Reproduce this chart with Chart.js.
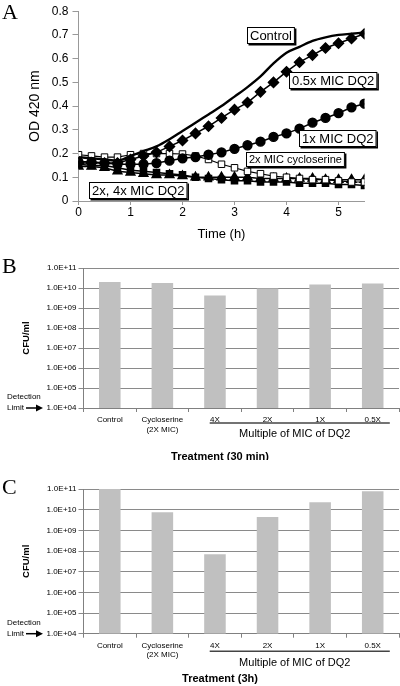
<!DOCTYPE html>
<html>
<head>
<meta charset="utf-8">
<script src="https://cdn.jsdelivr.net/npm/chart.js@4.4.1/dist/chart.umd.min.js"></script>
<style>
  html, body { margin: 0; padding: 0; background: #fff; }
  #wrap { position: relative; width: 400px; height: 686px; overflow: hidden; background: #fff; }
  canvas { position: absolute; left: 0; }
  .letter { position: absolute; font-family: 'Liberation Serif', 'DejaVu Serif', serif; font-size: 22px; color: #000; line-height: 1; }
</style>
</head>
<body>
<div id="wrap">
  <canvas id="cA" width="400" height="244" style="top:0"></canvas>
  <canvas id="cB" width="400" height="216" style="top:244px"></canvas>
  <canvas id="cC" width="400" height="226" style="top:460px"></canvas>
  <div class="letter" style="left:2px; top:1px;">A</div>
  <div class="letter" style="left:2px; top:255px;">B</div>
  <div class="letter" style="left:2px; top:476px;">C</div>
</div>
<script>
// ---------- Panel A data ----------
const timeH = [0,0.25,0.5,0.75,1,1.25,1.5,1.75,2,2.25,2.5,2.75,3,3.25,3.5,3.75,4,4.25,4.5,4.75,5,5.25,5.5];
const odControl     = [0.185,0.18,0.175,0.17,0.19,0.21,0.23,0.26,0.295,0.33,0.365,0.40,0.44,0.48,0.525,0.58,0.625,0.65,0.675,0.69,0.70,0.705,0.71];
const odHalfMicDQ2  = [0.16,0.16,0.16,0.16,0.175,0.19,0.205,0.23,0.255,0.285,0.315,0.35,0.385,0.415,0.46,0.50,0.545,0.585,0.615,0.645,0.665,0.685,0.705];
const odOneMicDQ2   = [0.165,0.165,0.16,0.155,0.155,0.155,0.16,0.17,0.18,0.185,0.195,0.205,0.22,0.235,0.25,0.27,0.285,0.305,0.33,0.35,0.37,0.395,0.41];
const odCycloserine = [0.195,0.19,0.185,0.185,0.195,0.20,0.20,0.20,0.198,0.19,0.175,0.155,0.14,0.125,0.115,0.105,0.10,0.095,0.09,0.09,0.085,0.08,0.08];
const odTwoMicDQ2   = [0.155,0.15,0.15,0.14,0.13,0.125,0.12,0.115,0.11,0.10,0.095,0.09,0.085,0.085,0.08,0.08,0.08,0.075,0.075,0.075,0.07,0.07,0.065];
const odFourMicDQ2  = [0.145,0.145,0.14,0.125,0.12,0.115,0.11,0.11,0.105,0.10,0.10,0.10,0.10,0.10,0.095,0.095,0.095,0.095,0.095,0.09,0.09,0.09,0.09];
const odTicksMax = 0.8;

// ---------- Panels B and C data ----------
const treatments = ['Control', ['Cycloserine','(2X MIC)'], '4X', '2X', '1X', '0.5X'];
const cfu30min = [2.0e10, 1.8e10, 4.2e9, 9.5e9, 1.5e10, 1.7e10];
const cfu3h    = [1.0e11, 7.4e9, 6.9e7, 4.4e9, 2.3e10, 7.7e10];
const cfuTicks = [1e4, 1e5, 1e6, 1e7, 1e8, 1e9, 1e10, 1e11];

const FONT = "'Liberation Sans', Arial, sans-serif";
Chart.defaults.font.family = FONT;
Chart.defaults.color = '#000';
Chart.defaults.devicePixelRatio = 1;

function pts(ys) { return timeH.map((t, i) => ({ x: t, y: ys[i] })); }

// ---------- Panel A: boxed labels ----------
const boxLabels = {
  id: 'boxLabels',
  afterDatasetsDraw(chart, args, opts) {
    const ctx = chart.ctx;
    ctx.save();
    for (const b of opts.items) {
      ctx.font = b.size + 'px ' + FONT;
      const w = ctx.measureText(b.text).width + 2 * b.padX;
      const h = b.h;
      ctx.fillStyle = '#000';
      ctx.fillRect(b.left + 1.5, b.top + 1.5, w, h);
      ctx.fillStyle = '#fff';
      ctx.fillRect(b.left, b.top, w, h);
      ctx.strokeStyle = '#000';
      ctx.lineWidth = 1;
      ctx.strokeRect(b.left + 0.5, b.top + 0.5, w - 1, h - 1);
      ctx.fillStyle = '#000';
      ctx.textBaseline = 'middle';
      ctx.textAlign = 'left';
      ctx.fillText(b.text, b.left + b.padX, b.top + h / 2 + 0.5);
    }
    ctx.restore();
  }
};

new Chart(document.getElementById('cA'), {
  type: 'line',
  data: {
    datasets: [
      { label: 'Control', data: pts(odControl), borderColor: '#000', borderWidth: 2.4, pointRadius: 0, cubicInterpolationMode: 'monotone' },
      { label: '0.5x MIC DQ2', data: pts(odHalfMicDQ2), borderColor: '#000', borderWidth: 1.5, pointStyle: 'rectRot', pointRadius: 5, pointBackgroundColor: '#000' },
      { label: '1x MIC DQ2', data: pts(odOneMicDQ2), borderColor: '#000', borderWidth: 1.5, pointStyle: 'circle', pointRadius: 4.4, pointBackgroundColor: '#000' },
      { label: '2x MIC cycloserine', data: pts(odCycloserine), borderColor: '#000', borderWidth: 1.2, pointStyle: 'rect', pointRadius: 4.6, pointBackgroundColor: '#fff', pointBorderColor: '#000', pointBorderWidth: 1 },
      { label: '2x MIC DQ2', data: pts(odTwoMicDQ2), borderColor: '#000', borderWidth: 1.5, pointStyle: 'rect', pointRadius: 4.3, pointBackgroundColor: '#000' },
      { label: '4x MIC DQ2', data: pts(odFourMicDQ2), borderColor: '#000', borderWidth: 1.5, pointStyle: 'triangle', pointRadius: 5, pointBackgroundColor: '#000' }
    ]
  },
  options: {
    responsive: false,
    animation: false,
    layout: { padding: { top: 11, right: 35.5, left: 0, bottom: 0 } },
    plugins: {
      legend: { display: false },
      tooltip: { enabled: false },
      boxLabels: {
        items: [
          { text: 'Control', left: 247, top: 27, h: 17, size: 13, padX: 3 },
          { text: '0.5x MIC DQ2', left: 289, top: 72, h: 17, size: 13, padX: 3 },
          { text: '1x MIC DQ2', left: 299, top: 130, h: 17, size: 13, padX: 3 },
          { text: '2x MIC cycloserine', left: 246, top: 152, h: 15, size: 11, padX: 3 },
          { text: '2x, 4x MIC DQ2', left: 89, top: 182, h: 17, size: 13, padX: 3 }
        ]
      }
    },
    scales: {
      x: {
        type: 'linear', min: 0, max: 5.5,
        ticks: { stepSize: 1, includeBounds: false, font: { size: 12 }, color: '#000', padding: 0, maxRotation: 0 },
        grid: { drawOnChartArea: false, tickLength: 4, color: '#999' },
        border: { color: '#999' },
        title: { display: true, text: 'Time (h)', font: { size: 13 }, color: '#000', padding: { top: 0, bottom: 2 } },
        afterFit(s) { s.height = 43; }
      },
      y: {
        min: 0, max: odTicksMax,
        ticks: { stepSize: 0.1, font: { size: 12 }, color: '#000', padding: 4 },
        grid: { drawOnChartArea: false, tickLength: 6, color: '#999' },
        border: { color: '#999' },
        title: { display: true, text: 'OD 420 nm', font: { size: 14 }, color: '#000', padding: { top: 27, bottom: 0 } },
        afterFit(s) { s.width = 78.5; }
      }
    }
  },
  plugins: [boxLabels]
});

// ---------- Panels B/C: decorations ----------
const barDecor = {
  id: 'barDecor',
  afterDraw(chart, args, o) {
    const ctx = chart.ctx;
    const xs = chart.scales.x;
    const bottom = chart.chartArea.bottom;
    ctx.save();
    ctx.fillStyle = '#000';
    ctx.strokeStyle = '#000';
    ctx.font = '8px ' + FONT;
    ctx.textBaseline = 'middle';
    ctx.textAlign = 'left';
    ctx.fillText('Detection', 7, bottom - 11);
    ctx.fillText('Limit', 7, bottom);
    ctx.lineWidth = 1.5;
    ctx.beginPath();
    ctx.moveTo(26, bottom);
    ctx.lineTo(38, bottom);
    ctx.stroke();
    ctx.beginPath();
    ctx.moveTo(43, bottom);
    ctx.lineTo(36, bottom - 3.5);
    ctx.lineTo(36, bottom + 3.5);
    ctx.closePath();
    ctx.fill();
    const half = (xs.getPixelForValue(1) - xs.getPixelForValue(0)) / 2;
    const x0 = xs.getPixelForValue(2) - half * 0.2;
    const x1 = xs.getPixelForValue(5) + half * 0.65;
    ctx.strokeStyle = '#444';
    ctx.lineWidth = 1.6;
    ctx.beginPath();
    ctx.moveTo(x0, bottom + o.lineOffset);
    ctx.lineTo(x1, bottom + o.lineOffset);
    ctx.stroke();
    ctx.font = '11px ' + FONT;
    ctx.textAlign = 'center';
    ctx.fillStyle = '#000';
    ctx.fillText('Multiple of MIC of DQ2', (x0 + x1) / 2 - 5, bottom + o.multOffset);
    ctx.font = 'bold 11px ' + FONT;
    ctx.fillText(o.title, 220, bottom + o.titleOffset);
    ctx.restore();
  }
};

function cfuLabel(v) {
  const e = Math.round(Math.log10(v));
  return '1.0E+' + (e < 10 ? '0' + e : '' + e);
}

function barChart(id, values, top, deco) {
  return new Chart(document.getElementById(id), {
    type: 'bar',
    data: {
      labels: treatments,
      datasets: [{ data: values, backgroundColor: '#c0c0c0', borderWidth: 0, barPercentage: 1, categoryPercentage: 0.41 }]
    },
    options: {
      responsive: false,
      animation: false,
      layout: { padding: { top: top, right: 1, left: 0, bottom: 0 } },
      plugins: { legend: { display: false }, tooltip: { enabled: false }, barDecor: deco },
      scales: {
        x: {
          ticks: { font: { size: 8 }, color: '#000', padding: 3, maxRotation: 0, autoSkip: false },
          grid: { drawOnChartArea: false, tickLength: 4, color: '#808080', offset: true },
          border: { color: '#808080' },
          afterFit(s) { s.height = deco.axisHeight; }
        },
        y: {
          type: 'logarithmic', min: 1e4, max: 1e11,
          afterBuildTicks(s) { s.ticks = cfuTicks.map(v => ({ value: v })); },
          ticks: { font: { size: 8 }, color: '#000', padding: 2, callback: (v) => cfuLabel(v) },
          grid: { color: '#8a8a8a', tickLength: 5 },
          border: { color: '#808080' },
          title: { display: true, text: 'CFU/ml', font: { size: 9.5, weight: 'bold' }, color: '#000', padding: { top: 21, bottom: 0 } },
          afterFit(s) { s.width = 83.5; }
        }
      }
    },
    plugins: [barDecor]
  });
}

barChart('cB', cfu30min, 24, { title: 'Treatment (30 min)', lineOffset: 15, multOffset: 26, titleOffset: 49, axisHeight: 52 });
barChart('cC', cfu3h, 29, { title: 'Treatment (3h)', lineOffset: 17.5, multOffset: 29, titleOffset: 45, axisHeight: 52.3 });
</script>
</body>
</html>
